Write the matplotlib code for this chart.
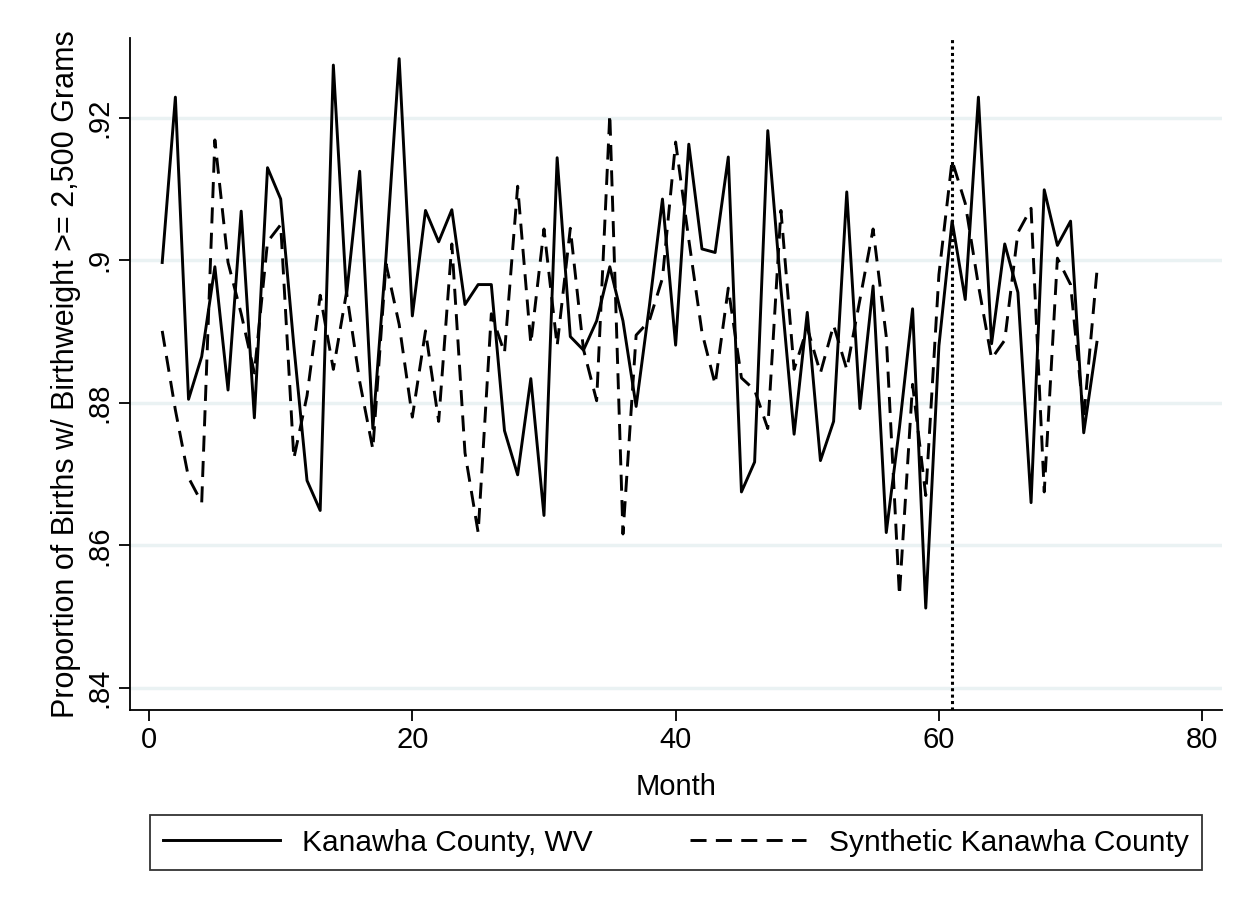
import numpy as np
import matplotlib.pyplot as plt

plt.rcParams['font.family'] = ['Liberation Sans', 'DejaVu Sans']

# monthly values
months = list(range(1, 73))
kanawha = [0.8997, 0.9229, 0.8805, 0.8865, 0.8991, 0.8818, 0.9069, 0.8779, 0.9130, 0.9086,
           0.8880, 0.8691, 0.8649, 0.9274, 0.8951, 0.9125, 0.8764, 0.9005, 0.9283, 0.8922,
           0.9070, 0.9026, 0.9071, 0.8938, 0.8966, 0.8966, 0.8761, 0.8699, 0.8834, 0.8642,
           0.9144, 0.8893, 0.8874, 0.8915, 0.8991, 0.8915, 0.8795, 0.8935, 0.9086, 0.8881,
           0.9163, 0.9016, 0.9011, 0.9145, 0.8675, 0.8717, 0.9182, 0.8960, 0.8756, 0.8927,
           0.8719, 0.8774, 0.9096, 0.8792, 0.8964, 0.8618, 0.8765, 0.8932, 0.8512, 0.8880,
           0.9055, 0.8945, 0.9229, 0.8883, 0.9023, 0.8955, 0.8660, 0.9099, 0.9021, 0.9055,
           0.8758, 0.8885]
synthetic = [0.8901, 0.8790, 0.8695, 0.8660, 0.9169, 0.8997, 0.8925, 0.8842, 0.9026, 0.9050,
             0.8722, 0.8810, 0.8951, 0.8847, 0.8955, 0.8830, 0.8735, 0.8995, 0.8910, 0.8780,
             0.8901, 0.8774, 0.9023, 0.8730, 0.8618, 0.8925, 0.8870, 0.9104, 0.8883, 0.9044,
             0.8880, 0.9045, 0.8875, 0.8803, 0.9205, 0.8616, 0.8895, 0.8915, 0.8975, 0.9166,
             0.9029, 0.8899, 0.8826, 0.8961, 0.8835, 0.8818, 0.8764, 0.9070, 0.8847, 0.8905,
             0.8842, 0.8909, 0.8847, 0.8945, 0.9044, 0.8893, 0.8530, 0.8826, 0.8670, 0.8980,
             0.9140, 0.9080, 0.8965, 0.8862, 0.8888, 0.9039, 0.9073, 0.8675, 0.9003, 0.8966,
             0.8779, 0.8984]
treat_month = 61

xticks = [0, 20, 40, 60, 80]
yticks = [0.84, 0.86, 0.88, 0.90, 0.92]
ytick_labels = ['.84', '.86', '.88', '.9', '.92']

fs = 21

fig = plt.figure(figsize=(12.52, 9.07), dpi=100)
ax = fig.add_axes([0.1038, 0.2172, 0.8722, 0.7409])

ax.plot(months, kanawha, color='black', lw=2.1, label='Kanawha County, WV')
ax.plot(months, synthetic, color='black', lw=2.1, linestyle=(0, (5.5, 3.2)),
        label='Synthetic Kanawha County')
ax.axvline(treat_month, color='black', lw=2.2, linestyle=(0, (1, 1.1)))

ax.set_xlim(-1.45, 81.5)
ax.set_ylim(0.8369, 0.9312)
ax.set_xticks(xticks)
ax.set_yticks(yticks)
ax.set_yticklabels(ytick_labels, rotation=90, va='center')
ax.yaxis.grid(True, color='#eaf2f3', lw=2.5)
ax.set_axisbelow(True)
for s in ['top', 'right']:
    ax.spines[s].set_visible(False)
for s in ['left', 'bottom']:
    ax.spines[s].set_linewidth(1.3)
ax.tick_params(labelsize=fs, length=8, width=1.3)
ax.tick_params(axis='y', pad=4)

ax.set_xlabel('Month', fontsize=fs, labelpad=14)
ax.set_ylabel('Proportion of Births w/ Birthweight >= 2,500 Grams', fontsize=22, labelpad=3)

leg = fig.legend(loc='lower left', bbox_to_anchor=(0.1198, 0.0408, 0.8403, 0.0640),
                 mode='expand', ncol=2, fontsize=21.5, frameon=True, fancybox=False,
                 edgecolor='black', handlelength=3.9, handletextpad=0.75,
                 borderpad=0.45, borderaxespad=0)
leg.get_frame().set_linewidth(1.3)

plt.savefig('out.png', dpi=100)
